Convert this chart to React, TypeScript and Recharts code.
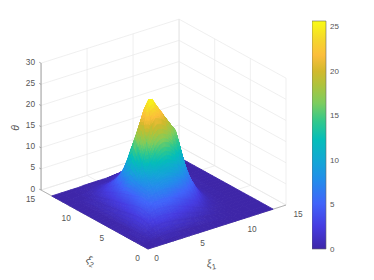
import React from "react";
import { ScatterChart, Scatter, XAxis, YAxis, BarChart, Bar } from "recharts";

const xi1Grid = [0, 1, 2, 2.5, 3, 3.5, 4, 4.5, 5, 5.5, 6, 6.5, 7, 7.5, 8, 8.5, 9, 9.5, 10, 10.5, 11, 12, 13.6];
const xi2Grid = [0, 1, 2, 2.5, 3, 3.5, 4, 4.5, 5, 5.5, 6, 6.5, 7, 7.5, 8, 8.5, 9, 9.5, 10, 11, 12, 13, 13.5];
const thetaRows = [
  [0, 0, 0, 0, 0, 0, 0, 0, 0, 0, 0, 0, 0, 0, 0, 0, 0, 0, 0, 0, 0, 0, 0],
  [0, 0.2, 0.6, 0.6, 0.6, 0.5, 0.5, 0.4, 0.4, 0.3, 0.3, 0.2, 0.2, 0.2, 0.2, 0.1, 0.1, 0.1, 0.1, 0, 0, 0, 0],
  [0, 0.5, 1.5, 2, 2.3, 2.5, 2.5, 2.4, 2.2, 2, 1.8, 1.6, 1.5, 1.3, 1.2, 1, 0.9, 0.8, 0.7, 0.4, 0.2, 0, 0],
  [0, 0.6, 1.9, 2.7, 3.4, 3.7, 3.9, 3.9, 3.7, 3.4, 3.1, 2.8, 2.6, 2.4, 2.2, 1.9, 1.7, 1.4, 1.2, 0.7, 0.3, 0.1, 0],
  [0, 0.6, 2.1, 3.1, 4, 4.8, 5.3, 5.5, 5.5, 5.2, 4.9, 4.6, 4.4, 4.1, 3.7, 3.3, 2.9, 2.5, 2.1, 1.2, 0.5, 0.1, 0],
  [0, 0.6, 2.1, 3.2, 4.3, 5.3, 6.1, 6.7, 7, 7.2, 7.5, 8, 8.6, 7.5, 6, 5, 4.3, 3.6, 3, 1.7, 0.7, 0.2, 0.1],
  [0, 0.5, 1.9, 3, 4.2, 5.5, 6.6, 7.4, 8.2, 9.2, 11.2, 14, 16.5, 14, 11, 8.5, 6.5, 5, 4, 2.2, 0.9, 0.3, 0.1],
  [0, 0.4, 1.8, 2.9, 4.1, 5.5, 6.9, 8, 9.2, 11.8, 16.5, 20, 19.7, 16.5, 13, 10, 7.5, 5.8, 4.5, 2.3, 1, 0.3, 0.1],
  [0, 0.4, 1.6, 2.6, 3.9, 5.4, 7, 8.5, 10.5, 14, 20, 25, 23, 19, 15.5, 12, 10, 7.5, 5.7, 2.8, 1.1, 0.3, 0.1],
  [0, 0.3, 1.4, 2.3, 3.5, 5, 6.7, 8.6, 11.2, 15.5, 21.5, 25.5, 25, 21, 17, 13, 10.5, 9, 6.8, 3.4, 1.4, 0.4, 0.1],
  [0, 0.3, 1.2, 2, 3.1, 4.5, 6.3, 8.5, 11.6, 16, 21, 23.5, 24, 22, 19, 15.5, 12, 9.8, 9, 4.5, 1.8, 0.6, 0.1],
  [0, 0.2, 1, 1.7, 2.7, 4, 5.8, 8, 11, 15.5, 20, 21.8, 22, 21, 18.5, 16, 13, 10.5, 8.5, 4.5, 2.5, 0.8, 0.2],
  [0, 0.2, 0.8, 1.4, 2.3, 3.5, 5.3, 7.4, 10.5, 14, 18, 19.8, 20.5, 20, 18.3, 16, 13.5, 11, 8.5, 4.5, 3.3, 1, 0.3],
  [0, 0.1, 0.6, 1.1, 1.8, 3, 4.6, 6.5, 9, 12.3, 15.5, 18, 18.8, 18.5, 17.5, 15, 13, 11, 8.5, 4.5, 3, 1.2, 0.3],
  [0, 0.1, 0.5, 0.9, 1.5, 2.4, 3.6, 5.2, 7.3, 10, 14, 16.5, 17, 16.5, 15.5, 14, 12, 10, 8, 4.3, 2.6, 1.2, 0.3],
  [0, 0.1, 0.3, 0.6, 1, 1.7, 2.7, 4, 5.6, 7.2, 9.5, 12, 13, 13, 12.5, 11.5, 10, 8.5, 6.8, 3.8, 1.9, 0.7, 0.2],
  [0, 0, 0.2, 0.4, 0.6, 1, 1.7, 2.6, 3.7, 4.8, 5.7, 7.8, 8.5, 9, 9.2, 8.8, 8, 7, 5.6, 3, 1.5, 0.6, 0.2],
  [0, 0, 0.1, 0.2, 0.3, 0.5, 0.9, 1.4, 2.1, 2.7, 3.3, 3.9, 4.5, 5, 5.5, 5.5, 5.2, 4.6, 3.8, 2.2, 1.1, 0.4, 0.1],
  [0, 0, 0, 0.1, 0.2, 0.3, 0.4, 0.7, 1, 1.3, 1.6, 2, 2.4, 2.8, 3, 3.1, 3, 2.7, 2.2, 1.3, 0.7, 0.3, 0.1],
  [0, 0, 0, 0, 0.1, 0.1, 0.2, 0.3, 0.4, 0.5, 0.6, 0.8, 1, 1.1, 1.2, 1.3, 1.3, 1.2, 1, 0.7, 0.4, 0.1, 0],
  [0, 0, 0, 0, 0, 0, 0.1, 0.1, 0.1, 0.2, 0.2, 0.3, 0.3, 0.4, 0.4, 0.4, 0.4, 0.3, 0.3, 0.2, 0.1, 0, 0],
  [0, 0, 0, 0, 0, 0, 0, 0, 0, 0, 0, 0, 0, 0, 0.1, 0.1, 0.1, 0.1, 0, 0, 0, 0, 0],
  [0, 0, 0, 0, 0, 0, 0, 0, 0, 0, 0, 0, 0, 0, 0, 0, 0, 0, 0, 0, 0, 0, 0],
];
const xi1Ticks = [0, 5, 10, 15];
const xi2Ticks = [0, 5, 10, 15];
const thetaTicks = [0, 5, 10, 15, 20, 25, 30];
const colorbarTicks = [0, 5, 10, 15, 20, 25];
const colorMax = 25.6;
const colorbarData = [{ name: "theta", value: colorMax }];

const parula: [number, number, number, number][] = [
  [0, 62, 38, 168], [0.1, 70, 60, 225], [0.2, 65, 100, 250], [0.3, 35, 140, 235],
  [0.38, 20, 165, 215], [0.48, 5, 190, 185], [0.56, 50, 200, 140], [0.64, 125, 205, 95],
  [0.72, 175, 195, 60], [0.78, 210, 185, 45], [0.85, 252, 190, 60], [0.92, 245, 215, 45],
  [1, 249, 251, 20],
];
function colorOf(v: number) {
  const t = Math.max(0, Math.min(1, v / colorMax));
  for (let i = 1; i < parula.length; i++) {
    if (t <= parula[i][0]) {
      const a = parula[i - 1], b = parula[i];
      const f = (t - a[0]) / (b[0] - a[0]);
      const m = (k: number) => Math.round(a[k] + (b[k] - a[k]) * f);
      return `rgb(${m(1)},${m(2)},${m(3)})`;
    }
  }
  return "rgb(249,251,20)";
}

// orthographic view of the 3-D box
function project(a: number, b: number, z: number) {
  return { x: 148 + 9.2 * a - 7.13 * b, y: 249 - 2.93 * a - 3.93 * b - 4.23 * z };
}

type Corner = { x: number; y: number; v: number };
const facets: { x: number; y: number; depth: number; c: Corner[] }[] = [];
for (let i = 0; i < xi1Grid.length - 1; i++) {
  for (let j = 0; j < xi2Grid.length - 1; j++) {
    const idx = [[i, j], [i + 1, j], [i + 1, j + 1], [i, j + 1]];
    const c = idx.map(([p, q]) => ({ ...project(xi1Grid[p], xi2Grid[q], thetaRows[p][q]), v: thetaRows[p][q] }));
    const a = (xi1Grid[i] + xi1Grid[i + 1]) / 2, b = (xi2Grid[j] + xi2Grid[j + 1]) / 2;
    facets.push({
      x: (c[0].x + c[2].x) / 2, y: (c[0].y + c[2].y) / 2, c,
      depth: 2.93 * a + 3.93 * b,
    });
  }
}
facets.sort((p, q) => q.depth - p.depth);

function FacetShape(props: any) {
  const f = props.payload ?? props;
  const dx = props.cx - f.x, dy = props.cy - f.y;
  const vs = f.c.map((k: Corner) => k.v);
  const range = Math.max(...vs) - Math.min(...vs);
  const n = Math.min(5, Math.max(1, Math.ceil(range / 0.5)));
  const at = (u: number, w: number) => {
    const m = (k: "x" | "y" | "v") =>
      (1 - u) * (1 - w) * f.c[0][k] + u * (1 - w) * f.c[1][k] + u * w * f.c[2][k] + (1 - u) * w * f.c[3][k];
    return { x: m("x") + dx, y: m("y") + dy, v: m("v") };
  };
  const polys = [];
  for (let p = 0; p < n; p++) {
    for (let q = 0; q < n; q++) {
      const pts = [at(p / n, q / n), at((p + 1) / n, q / n), at((p + 1) / n, (q + 1) / n), at(p / n, (q + 1) / n)];
      const col = colorOf(at((p + 0.5) / n, (q + 0.5) / n).v);
      polys.push(
        <polygon key={`${p}-${q}`} points={pts.map((s) => `${s.x.toFixed(2)},${s.y.toFixed(2)}`).join(" ")} fill={col} stroke={col} strokeWidth={0.9} strokeLinejoin="round" />
      );
    }
  }
  return <g>{polys}</g>;
}

const GRID = "#e8e8e8";
const AXIS = "#8a8a8a";
type Seg = { pts: { x: number; y: number }[]; stroke: string; w: number };
const seg = (p: any, q: any, stroke: string, w = 0.7): Seg => ({ pts: [p, q], stroke, w });
const gridSegs: Seg[] = [];
for (const z of thetaTicks) {
  gridSegs.push(seg(project(0, 15, z), project(15, 15, z), GRID));
  gridSegs.push(seg(project(15, 15, z), project(15, 0, z), GRID));
}
for (const t of xi1Ticks) {
  gridSegs.push(seg(project(t, 15, 0), project(t, 15, 30), GRID, t === 15 ? 1 : 0.7));
  gridSegs.push(seg(project(t, 0, 0), project(t, 15, 0), GRID));
}
for (const t of xi2Ticks) {
  gridSegs.push(seg(project(15, t, 0), project(15, t, 30), GRID));
  gridSegs.push(seg(project(0, t, 0), project(15, t, 0), GRID));
}
const axisSegs: Seg[] = [
  seg(project(0, 15, 0), project(0, 15, 30), AXIS, 0.8),
  seg(project(0, 15, 0), project(0, 0, 0), AXIS, 0.6),
  seg(project(0, 0, 0), project(15, 0, 0), AXIS, 0.6),
];
for (const z of thetaTicks) {
  const p = project(0, 15, z);
  axisSegs.push(seg({ x: p.x - 2, y: p.y - 1 }, p, AXIS, 0.6));
}

type Lab = { x: number; y: number; text: string; anchor: string };
const labels: Lab[] = [
  ...xi1Ticks.map((t) => {
    const p = project(t, 0, 0);
    return { x: p.x + (t < 10 ? 8.5 : 12), y: p.y + 9, text: String(t), anchor: "middle" };
  }),
  ...xi2Ticks.map((t) => {
    const p = project(0, t, 0);
    return { x: p.x - 10.5, y: p.y + 8.5, text: String(t), anchor: "middle" };
  }),
  ...thetaTicks.map((z) => {
    const p = project(0, 15, z);
    return { x: p.x - 6, y: p.y - 1.5, text: String(z), anchor: "end" };
  }),
];

const FONT = "'Liberation Sans', Arial, sans-serif";
const TEXT = "#555";
function LabelShape(props: any) {
  const d = props.payload ?? props;
  return (
    <text x={props.cx} y={props.cy} fontFamily={FONT} fontSize={8.3} fill={TEXT} textAnchor={d.anchor} dominantBaseline="central">
      {d.text}
    </text>
  );
}
const titles = [
  { x: 15, y: 128, main: "θ", sub: "", rot: -90 },
  { x: 91, y: 260, main: "ξ", sub: "2", rot: 25 },
  { x: 211, y: 263, main: "ξ", sub: "1", rot: -8 },
];
function TitleShape(props: any) {
  const d = props.payload ?? props;
  return (
    <text transform={`translate(${props.cx},${props.cy}) rotate(${d.rot})`} fontFamily={FONT} fontSize={10.5} fontStyle="italic" fill={TEXT} textAnchor="middle" dominantBaseline="central">
      {d.main}
      {d.sub ? <tspan fontSize={7.5} fontStyle="normal" dy={3.5}>{d.sub}</tspan> : null}
    </text>
  );
}
const nothing = () => null;

export default function App() {
  return (
    <div style={{ position: "absolute", left: 0, top: 0, width: 374, height: 280, background: "#fff" }}>
      <div style={{ position: "absolute", left: 0, top: 0 }}>
        <ScatterChart width={374} height={280} margin={{ top: 0, right: 0, bottom: 0, left: 0 }}>
          <XAxis type="number" dataKey="x" domain={[0, 374]} hide />
          <YAxis type="number" dataKey="y" domain={[0, 280]} reversed hide />
          {gridSegs.map((s, i) => (
            <Scatter key={`g${i}`} data={s.pts} line={{ stroke: s.stroke, strokeWidth: s.w }} shape={nothing} isAnimationActive={false} />
          ))}
          {axisSegs.map((s, i) => (
            <Scatter key={`a${i}`} data={s.pts} line={{ stroke: s.stroke, strokeWidth: s.w }} shape={nothing} isAnimationActive={false} />
          ))}
          <Scatter data={facets} shape={FacetShape} isAnimationActive={false} />
          <Scatter data={labels} shape={LabelShape} isAnimationActive={false} />
          <Scatter data={titles} shape={TitleShape} isAnimationActive={false} />
        </ScatterChart>
      </div>
      <div style={{ position: "absolute", left: 312, top: 11 }}>
        <BarChart width={40} height={248} data={colorbarData} barCategoryGap={0} margin={{ top: 10, right: 0, bottom: 10, left: 0 }}>
          <defs>
            <linearGradient id="parulaBar" x1="0" y1="1" x2="0" y2="0">
              {parula.map((s) => (
                <stop key={s[0]} offset={s[0]} stopColor={`rgb(${s[1]},${s[2]},${s[3]})`} />
              ))}
            </linearGradient>
          </defs>
          <XAxis dataKey="name" hide />
          <YAxis
            orientation="right"
            width={26}
            domain={[0, colorMax]}
            ticks={colorbarTicks}
            interval={0}
            tickSize={0}
            tickMargin={4}
            axisLine={false}
            tick={{ fontSize: 8, fontFamily: FONT, fill: TEXT }}
          />
          <Bar dataKey="value" fill="url(#parulaBar)" stroke="#666" strokeWidth={0.6} isAnimationActive={false} />
        </BarChart>
      </div>
    </div>
  );
}
